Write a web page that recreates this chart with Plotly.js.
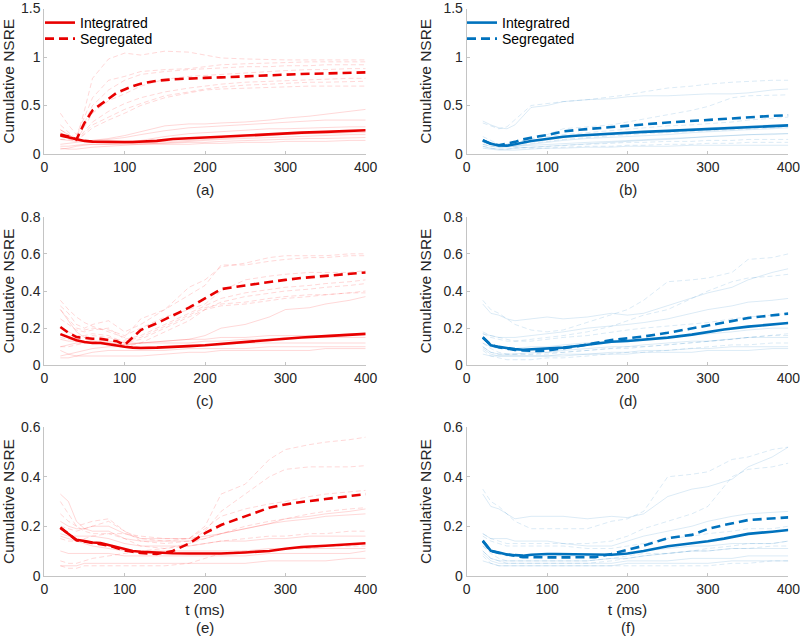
<!DOCTYPE html>
<html>
<head>
<meta charset="utf-8">
<script src="https://cdn.plot.ly/plotly-3.0.1.min.js"></script>
<style>html,body{margin:0;padding:0;background:#fff;}#chart{width:800px;height:636px;}</style>
</head>
<body>
<div id="chart"></div>
<script>
// ---------- DATA ----------
const tMain  = [20,30,40,50,60,70,80,90,100,110,120,140,160,180,200,220,250,280,300,320,350,380,400];
const tFaint = [20,30,40,50,60,80,100,120,150,180,200,220,250,280,300,330,350,380,400];
const seriesNames = ["Integratred", "Segregated"];
const panelLabels = ["(a)", "(b)", "(c)", "(d)", "(e)", "(f)"];
const yTitle = "Cumulative NSRE";
const xTitle = "t (ms)";

// (a)
const aInt = [0.19,0.17,0.15,0.135,0.128,0.125,0.124,0.123,0.123,0.124,0.126,0.135,0.155,0.165,0.17,0.178,0.19,0.205,0.215,0.22,0.228,0.238,0.245];
const aSeg = [0.2,0.18,0.15,0.32,0.45,0.51,0.57,0.63,0.665,0.7,0.725,0.755,0.77,0.78,0.785,0.79,0.8,0.815,0.82,0.825,0.83,0.838,0.842];
const aIntRuns = [
  [0.1,0.11,0.12,0.13,0.14,0.16,0.19,0.23,0.29,0.31,0.31,0.32,0.33,0.35,0.37,0.39,0.41,0.44,0.46],
  [0.15,0.14,0.13,0.13,0.14,0.15,0.17,0.2,0.24,0.27,0.28,0.29,0.3,0.32,0.33,0.34,0.35,0.35,0.35],
  [0.2,0.17,0.15,0.13,0.12,0.12,0.13,0.14,0.18,0.21,0.22,0.23,0.25,0.26,0.26,0.27,0.27,0.28,0.28],
  [0.05,0.06,0.08,0.09,0.1,0.1,0.11,0.12,0.13,0.14,0.15,0.16,0.18,0.19,0.2,0.21,0.21,0.22,0.22],
  [0.06,0.05,0.05,0.06,0.07,0.08,0.09,0.1,0.12,0.13,0.14,0.15,0.16,0.17,0.18,0.19,0.19,0.2,0.2],
  [0.25,0.2,0.15,0.13,0.12,0.11,0.11,0.11,0.11,0.12,0.12,0.13,0.14,0.15,0.15,0.16,0.16,0.17,0.17],
  [0.08,0.08,0.09,0.1,0.1,0.1,0.1,0.1,0.1,0.1,0.11,0.11,0.12,0.12,0.13,0.13,0.13,0.14,0.14]
];
const aSegRuns = [
  [0.25,0.2,0.15,0.45,0.78,0.98,1.04,1.02,1.06,1.05,1.02,0.99,0.98,0.97,0.97,0.97,0.97,0.97,0.97],
  [0.42,0.3,0.2,0.38,0.58,0.76,0.8,0.85,0.87,0.88,0.9,0.92,0.93,0.94,0.94,0.95,0.95,0.95,0.95],
  [0.3,0.22,0.15,0.32,0.5,0.66,0.76,0.82,0.85,0.87,0.88,0.89,0.9,0.9,0.91,0.91,0.92,0.92,0.92],
  [0.2,0.17,0.14,0.28,0.42,0.55,0.62,0.7,0.77,0.8,0.81,0.82,0.84,0.85,0.86,0.87,0.87,0.88,0.88],
  [0.15,0.15,0.14,0.24,0.33,0.44,0.52,0.58,0.64,0.68,0.7,0.72,0.74,0.75,0.76,0.77,0.77,0.78,0.78],
  [0.18,0.16,0.13,0.22,0.3,0.38,0.46,0.52,0.6,0.64,0.67,0.69,0.71,0.72,0.73,0.74,0.74,0.75,0.75],
  [0.22,0.18,0.14,0.2,0.27,0.35,0.42,0.5,0.58,0.63,0.66,0.67,0.68,0.69,0.69,0.7,0.7,0.7,0.7]
];

// (b)
const bInt = [0.142,0.105,0.088,0.086,0.1,0.118,0.135,0.145,0.155,0.168,0.178,0.19,0.2,0.212,0.222,0.228,0.238,0.25,0.257,0.265,0.278,0.288,0.295];
const bSeg = [0.14,0.105,0.09,0.105,0.125,0.15,0.17,0.183,0.195,0.215,0.233,0.25,0.262,0.276,0.29,0.305,0.325,0.342,0.35,0.36,0.38,0.393,0.4];
const bIntRuns = [
  [0.34,0.3,0.27,0.26,0.3,0.48,0.5,0.54,0.56,0.57,0.59,0.6,0.6,0.61,0.62,0.62,0.63,0.66,0.67],
  [0.12,0.1,0.08,0.08,0.1,0.13,0.15,0.17,0.19,0.21,0.22,0.23,0.24,0.26,0.27,0.28,0.29,0.3,0.3],
  [0.1,0.08,0.07,0.07,0.08,0.1,0.12,0.14,0.16,0.17,0.18,0.19,0.2,0.22,0.23,0.24,0.25,0.26,0.27],
  [0.08,0.06,0.05,0.05,0.06,0.07,0.08,0.09,0.11,0.12,0.13,0.14,0.15,0.17,0.18,0.19,0.2,0.21,0.21],
  [0.06,0.05,0.04,0.04,0.04,0.05,0.06,0.06,0.07,0.07,0.08,0.08,0.08,0.09,0.09,0.09,0.09,0.09,0.09],
  [0.14,0.11,0.09,0.08,0.08,0.09,0.1,0.11,0.12,0.13,0.14,0.15,0.16,0.17,0.18,0.19,0.2,0.2,0.21]
];
const bSegRuns = [
  [0.32,0.29,0.26,0.28,0.35,0.5,0.52,0.54,0.56,0.59,0.61,0.64,0.68,0.7,0.72,0.74,0.75,0.76,0.76],
  [0.15,0.12,0.1,0.1,0.12,0.16,0.2,0.26,0.28,0.3,0.33,0.36,0.41,0.45,0.49,0.58,0.6,0.61,0.61],
  [0.12,0.1,0.09,0.1,0.12,0.15,0.18,0.2,0.22,0.24,0.26,0.27,0.29,0.3,0.31,0.33,0.35,0.37,0.38],
  [0.1,0.08,0.07,0.08,0.09,0.11,0.13,0.15,0.17,0.19,0.2,0.21,0.22,0.23,0.24,0.25,0.26,0.27,0.28],
  [0.08,0.06,0.05,0.05,0.06,0.07,0.08,0.09,0.1,0.11,0.12,0.12,0.13,0.13,0.14,0.14,0.15,0.15,0.15],
  [0.18,0.14,0.1,0.08,0.07,0.06,0.06,0.07,0.08,0.08,0.09,0.09,0.1,0.1,0.11,0.11,0.12,0.12,0.12]
];

// (c)
const cInt = [0.168,0.15,0.135,0.125,0.12,0.12,0.112,0.105,0.1,0.095,0.093,0.095,0.098,0.103,0.108,0.115,0.127,0.137,0.147,0.15,0.157,0.165,0.169];
const cSeg = [0.206,0.175,0.152,0.147,0.143,0.142,0.138,0.13,0.11,0.15,0.19,0.226,0.27,0.31,0.36,0.41,0.43,0.45,0.46,0.47,0.48,0.49,0.5];
const cIntRuns = [
  [0.1,0.11,0.12,0.12,0.12,0.12,0.11,0.12,0.13,0.14,0.16,0.2,0.22,0.26,0.3,0.31,0.33,0.35,0.37],
  [0.3,0.24,0.18,0.15,0.13,0.12,0.11,0.12,0.13,0.14,0.14,0.15,0.15,0.16,0.16,0.16,0.16,0.17,0.17],
  [0.14,0.13,0.13,0.13,0.13,0.13,0.12,0.12,0.12,0.12,0.13,0.13,0.14,0.14,0.15,0.15,0.15,0.15,0.15],
  [0.05,0.06,0.07,0.08,0.09,0.1,0.1,0.1,0.1,0.11,0.11,0.11,0.12,0.12,0.12,0.12,0.12,0.12,0.12],
  [0.04,0.04,0.05,0.06,0.07,0.08,0.08,0.08,0.08,0.09,0.09,0.09,0.09,0.1,0.1,0.1,0.1,0.1,0.1],
  [0.08,0.06,0.05,0.05,0.05,0.05,0.05,0.05,0.06,0.07,0.07,0.08,0.08,0.08,0.08,0.08,0.09,0.09,0.09]
];
const cSegRuns = [
  [0.35,0.3,0.26,0.23,0.21,0.18,0.15,0.25,0.3,0.42,0.46,0.53,0.55,0.58,0.59,0.59,0.59,0.6,0.6],
  [0.32,0.28,0.22,0.2,0.22,0.24,0.18,0.22,0.3,0.38,0.43,0.54,0.54,0.56,0.57,0.58,0.58,0.59,0.59],
  [0.3,0.25,0.2,0.19,0.2,0.19,0.16,0.2,0.26,0.3,0.33,0.4,0.46,0.48,0.49,0.5,0.5,0.5,0.51],
  [0.25,0.22,0.19,0.18,0.19,0.2,0.14,0.16,0.22,0.28,0.32,0.36,0.39,0.41,0.42,0.43,0.44,0.45,0.46],
  [0.2,0.18,0.16,0.16,0.17,0.16,0.12,0.14,0.2,0.26,0.3,0.34,0.37,0.39,0.4,0.41,0.42,0.43,0.44],
  [0.15,0.14,0.14,0.15,0.16,0.15,0.13,0.15,0.21,0.27,0.31,0.33,0.34,0.36,0.37,0.38,0.38,0.39,0.4],
  [0.1,0.1,0.11,0.12,0.13,0.12,0.1,0.12,0.18,0.24,0.3,0.32,0.33,0.35,0.36,0.37,0.38,0.39,0.39]
];

// (d)
const dInt = [0.151,0.108,0.099,0.091,0.087,0.084,0.086,0.088,0.09,0.092,0.095,0.105,0.116,0.127,0.131,0.137,0.149,0.165,0.181,0.193,0.208,0.22,0.228];
const dSeg = [0.15,0.11,0.097,0.088,0.083,0.08,0.078,0.077,0.079,0.084,0.092,0.104,0.118,0.136,0.145,0.155,0.175,0.198,0.212,0.23,0.255,0.27,0.278];
const dIntRuns = [
  [0.33,0.28,0.27,0.25,0.24,0.25,0.26,0.25,0.26,0.28,0.27,0.28,0.32,0.36,0.39,0.42,0.46,0.5,0.52],
  [0.17,0.16,0.15,0.15,0.15,0.16,0.17,0.18,0.2,0.21,0.22,0.23,0.25,0.28,0.3,0.32,0.34,0.35,0.36],
  [0.12,0.1,0.09,0.09,0.09,0.1,0.1,0.11,0.12,0.13,0.14,0.14,0.15,0.16,0.17,0.18,0.19,0.2,0.2],
  [0.1,0.07,0.06,0.06,0.06,0.07,0.07,0.08,0.09,0.1,0.1,0.11,0.12,0.13,0.13,0.14,0.15,0.15,0.15],
  [0.09,0.06,0.05,0.05,0.05,0.05,0.05,0.06,0.06,0.07,0.07,0.08,0.08,0.09,0.09,0.1,0.1,0.1,0.1],
  [0.06,0.05,0.05,0.05,0.05,0.05,0.05,0.05,0.06,0.06,0.06,0.07,0.07,0.07,0.08,0.08,0.08,0.09,0.09]
];
const dSegRuns = [
  [0.35,0.3,0.28,0.25,0.22,0.19,0.18,0.19,0.23,0.27,0.3,0.35,0.45,0.46,0.47,0.5,0.57,0.58,0.6],
  [0.17,0.15,0.14,0.13,0.13,0.14,0.15,0.16,0.18,0.21,0.24,0.27,0.3,0.36,0.4,0.45,0.47,0.48,0.49],
  [0.18,0.16,0.15,0.14,0.13,0.13,0.14,0.15,0.16,0.18,0.19,0.2,0.21,0.22,0.23,0.25,0.26,0.27,0.28],
  [0.1,0.07,0.06,0.06,0.06,0.06,0.07,0.07,0.08,0.09,0.1,0.1,0.11,0.12,0.13,0.14,0.15,0.16,0.17],
  [0.08,0.05,0.04,0.03,0.03,0.03,0.04,0.04,0.05,0.06,0.07,0.07,0.08,0.09,0.1,0.11,0.11,0.12,0.12],
  [0.12,0.09,0.07,0.06,0.06,0.06,0.06,0.07,0.08,0.09,0.09,0.1,0.11,0.12,0.13,0.14,0.15,0.16,0.16]
];

// (e)
const eInt = [0.193,0.17,0.145,0.14,0.134,0.132,0.124,0.114,0.105,0.1,0.097,0.093,0.091,0.09,0.089,0.09,0.094,0.1,0.109,0.116,0.121,0.127,0.131];
const eSeg = [0.195,0.17,0.143,0.138,0.133,0.13,0.122,0.112,0.102,0.097,0.092,0.088,0.1,0.13,0.172,0.205,0.24,0.275,0.288,0.298,0.31,0.322,0.33];
const eIntRuns = [
  [0.33,0.3,0.22,0.19,0.18,0.18,0.15,0.14,0.14,0.14,0.15,0.17,0.19,0.21,0.23,0.24,0.25,0.26,0.27],
  [0.22,0.2,0.19,0.19,0.2,0.2,0.17,0.15,0.15,0.15,0.16,0.17,0.19,0.21,0.22,0.23,0.24,0.245,0.25],
  [0.17,0.16,0.16,0.16,0.16,0.15,0.13,0.12,0.12,0.12,0.13,0.14,0.14,0.15,0.15,0.16,0.16,0.16,0.16],
  [0.16,0.15,0.14,0.13,0.12,0.11,0.1,0.1,0.1,0.1,0.1,0.1,0.1,0.11,0.11,0.11,0.11,0.11,0.11],
  [0.1,0.09,0.09,0.09,0.09,0.09,0.08,0.08,0.08,0.08,0.08,0.08,0.08,0.09,0.09,0.09,0.09,0.09,0.1],
  [0.04,0.04,0.04,0.05,0.05,0.05,0.05,0.05,0.05,0.05,0.05,0.05,0.05,0.06,0.06,0.06,0.06,0.07,0.07]
];
const eSegRuns = [
  [0.3,0.25,0.2,0.18,0.17,0.17,0.17,0.16,0.15,0.15,0.2,0.33,0.37,0.47,0.51,0.53,0.54,0.55,0.56],
  [0.25,0.22,0.2,0.21,0.22,0.23,0.18,0.14,0.13,0.14,0.18,0.26,0.33,0.4,0.43,0.44,0.44,0.44,0.445],
  [0.2,0.19,0.18,0.19,0.2,0.22,0.18,0.15,0.14,0.15,0.19,0.24,0.27,0.29,0.3,0.32,0.33,0.34,0.345],
  [0.06,0.05,0.05,0.06,0.07,0.08,0.09,0.1,0.11,0.13,0.15,0.17,0.2,0.22,0.23,0.25,0.26,0.27,0.275],
  [0.15,0.14,0.14,0.15,0.16,0.17,0.15,0.12,0.11,0.12,0.13,0.14,0.15,0.16,0.16,0.17,0.17,0.18,0.18],
  [0.04,0.03,0.03,0.04,0.04,0.04,0.04,0.04,0.04,0.05,0.07,0.09,0.1,0.1,0.11,0.11,0.12,0.12,0.12]
];

// (f)
const fInt = [0.142,0.101,0.094,0.086,0.083,0.081,0.085,0.088,0.088,0.088,0.088,0.087,0.085,0.085,0.09,0.1,0.119,0.13,0.139,0.15,0.169,0.178,0.185];
const fSeg = [0.14,0.1,0.092,0.085,0.08,0.075,0.074,0.074,0.074,0.074,0.074,0.074,0.075,0.088,0.105,0.121,0.152,0.165,0.189,0.205,0.225,0.232,0.236];
const fIntRuns = [
  [0.33,0.28,0.27,0.25,0.23,0.24,0.24,0.24,0.23,0.24,0.235,0.25,0.32,0.35,0.36,0.39,0.44,0.48,0.52],
  [0.17,0.15,0.15,0.15,0.14,0.14,0.14,0.13,0.12,0.12,0.14,0.16,0.18,0.2,0.22,0.24,0.25,0.255,0.26],
  [0.12,0.1,0.09,0.08,0.08,0.08,0.08,0.08,0.08,0.08,0.09,0.1,0.11,0.12,0.12,0.13,0.13,0.13,0.14],
  [0.1,0.07,0.06,0.06,0.06,0.06,0.06,0.06,0.06,0.07,0.07,0.08,0.09,0.1,0.1,0.11,0.11,0.11,0.11],
  [0.09,0.06,0.05,0.05,0.05,0.05,0.05,0.05,0.05,0.05,0.06,0.06,0.06,0.07,0.07,0.07,0.08,0.08,0.08],
  [0.06,0.05,0.04,0.04,0.04,0.04,0.04,0.04,0.04,0.04,0.05,0.05,0.05,0.05,0.05,0.06,0.06,0.06,0.06]
];
const fSegRuns = [
  [0.35,0.3,0.28,0.25,0.22,0.19,0.19,0.19,0.19,0.22,0.23,0.26,0.4,0.41,0.42,0.47,0.48,0.51,0.52],
  [0.17,0.15,0.14,0.13,0.13,0.13,0.13,0.13,0.13,0.14,0.16,0.19,0.22,0.25,0.28,0.4,0.43,0.44,0.455],
  [0.16,0.14,0.13,0.12,0.12,0.12,0.12,0.12,0.11,0.11,0.12,0.13,0.15,0.16,0.17,0.18,0.19,0.19,0.2],
  [0.1,0.07,0.06,0.05,0.05,0.05,0.05,0.05,0.05,0.06,0.07,0.08,0.09,0.1,0.11,0.12,0.13,0.13,0.14],
  [0.08,0.05,0.04,0.04,0.04,0.04,0.04,0.04,0.04,0.04,0.04,0.04,0.04,0.04,0.04,0.05,0.05,0.06,0.06],
  [0.12,0.09,0.07,0.06,0.06,0.06,0.06,0.06,0.06,0.07,0.08,0.09,0.09,0.1,0.1,0.11,0.11,0.12,0.12]
];

const yRanges = [[0,1.5],[0,1.5],[0,0.8],[0,0.8],[0,0.6],[0,0.6]];
const yDticks = [0.5,0.5,0.2,0.2,0.2,0.2];

// ---------- BUILD ----------
const RED = 'rgb(232,0,0)';
const RED_FAINT = 'rgba(255,40,40,0.18)';
const BLUE = '#0072BD';
const BLUE_FAINT = 'rgba(0,114,189,0.14)';

const panels = [
  {main:[aInt,aSeg], runs:[aIntRuns,aSegRuns], col:RED,  faint:RED_FAINT,  legends:['legend','legend3']},
  {main:[bInt,bSeg], runs:[bIntRuns,bSegRuns], col:BLUE, faint:BLUE_FAINT, legends:['legend2','legend4']},
  {main:[cInt,cSeg], runs:[cIntRuns,cSegRuns], col:RED,  faint:RED_FAINT},
  {main:[dInt,dSeg], runs:[dIntRuns,dSegRuns], col:BLUE, faint:BLUE_FAINT},
  {main:[eInt,eSeg], runs:[eIntRuns,eSegRuns], col:RED,  faint:RED_FAINT},
  {main:[fInt,fSeg], runs:[fIntRuns,fSegRuns], col:BLUE, faint:BLUE_FAINT}
];

const W = 800, H = 636;
const colPx = [[44.3,365.7],[466.7,788.3]];
const rowPx = [[8.5,154],[216.7,365.3],[427.3,575.7]];

const traces = [];
const layout = {
  width: W, height: H,
  margin: {l:0, r:0, t:0, b:0},
  paper_bgcolor: '#fff', plot_bgcolor: '#fff',
  font: {family: 'Liberation Sans, Arial, Helvetica, sans-serif', size: 14, color: '#262626'},
  showlegend: true,
  annotations: []
};

const dashMain = '9px,5px';
const dashFaint = '5px,3px';

panels.forEach((p, i) => {
  const n = i + 1;
  const xa = n === 1 ? 'x' : 'x' + n;
  const ya = n === 1 ? 'y' : 'y' + n;
  const row = Math.floor(i / 2), col = i % 2;
  p.runs[0].forEach(r => traces.push({x:tFaint, y:r, xaxis:xa, yaxis:ya, mode:'lines', type:'scatter',
    line:{color:p.faint, width:1}, showlegend:false, hoverinfo:'skip'}));
  p.runs[1].forEach(r => traces.push({x:tFaint, y:r, xaxis:xa, yaxis:ya, mode:'lines', type:'scatter',
    line:{color:p.faint, width:1, dash:dashFaint}, showlegend:false, hoverinfo:'skip'}));
  const inLegend = !!p.legends;
  traces.push({x:tMain, y:p.main[0], xaxis:xa, yaxis:ya, mode:'lines', type:'scatter', name:seriesNames[0],
    line:{color:p.col, width:2.6}, showlegend:inLegend, legend:inLegend ? p.legends[0] : 'legend'});
  traces.push({x:tMain, y:p.main[1], xaxis:xa, yaxis:ya, mode:'lines', type:'scatter', name:seriesNames[1],
    line:{color:p.col, width:2.6, dash:dashMain}, showlegend:inLegend, legend:inLegend ? p.legends[1] : 'legend'});

  const axCommon = {
    showline:true, linecolor:'#c4c4c4', linewidth:1, mirror:false,
    ticks:'inside', ticklen:3, tickcolor:'#c4c4c4', tickwidth:1,
    showgrid:false, zeroline:false, fixedrange:true,
    ticklabeloverflow:'allow',
    tickfont:{size:14, color:'#262626'}
  };
  const xKey = n === 1 ? 'xaxis' : 'xaxis' + n;
  const yKey = n === 1 ? 'yaxis' : 'yaxis' + n;
  layout[xKey] = Object.assign({}, axCommon, {
    domain:[colPx[col][0]/W, colPx[col][1]/W], anchor:ya,
    range:[0,400], dtick:100, tick0:0
  });
  if (row === 2) layout[xKey].title = {text:xTitle, font:{size:15.5, color:'#262626'}, standoff:8};
  layout[yKey] = Object.assign({}, axCommon, {
    domain:[1 - rowPx[row][1]/H, 1 - rowPx[row][0]/H], anchor:xa,
    range:yRanges[i], dtick:yDticks[i], tick0:0,
    title:{text:yTitle, font:{size:15.5, color:'#262626'}, standoff:8}
  });
  const labelY = row === 2 ? 627 : rowPx[row][1] + 35;
  layout.annotations.push({
    text: panelLabels[i], xref:'paper', yref:'paper', showarrow:false,
    x:(colPx[col][0]+colPx[col][1])/2/W, y:1 - labelY/H, xanchor:'center', yanchor:'middle',
    font:{size:15, color:'#262626'}
  });
});

function legendAt(xPx, yPx) {
  return {x:xPx/W, y:1-yPx/H, xanchor:'left', yanchor:'middle', bgcolor:'rgba(0,0,0,0)',
    borderwidth:0, font:{size:14, color:'#000'}, itemwidth:30, tracegroupgap:0};
}
layout.legend  = legendAt(40, 23);
layout.legend3 = legendAt(40, 39);
layout.legend2 = legendAt(462, 23);
layout.legend4 = legendAt(462, 39);

Plotly.newPlot('chart', traces, layout, {displayModeBar:false, staticPlot:true});
</script>
</body>
</html>
